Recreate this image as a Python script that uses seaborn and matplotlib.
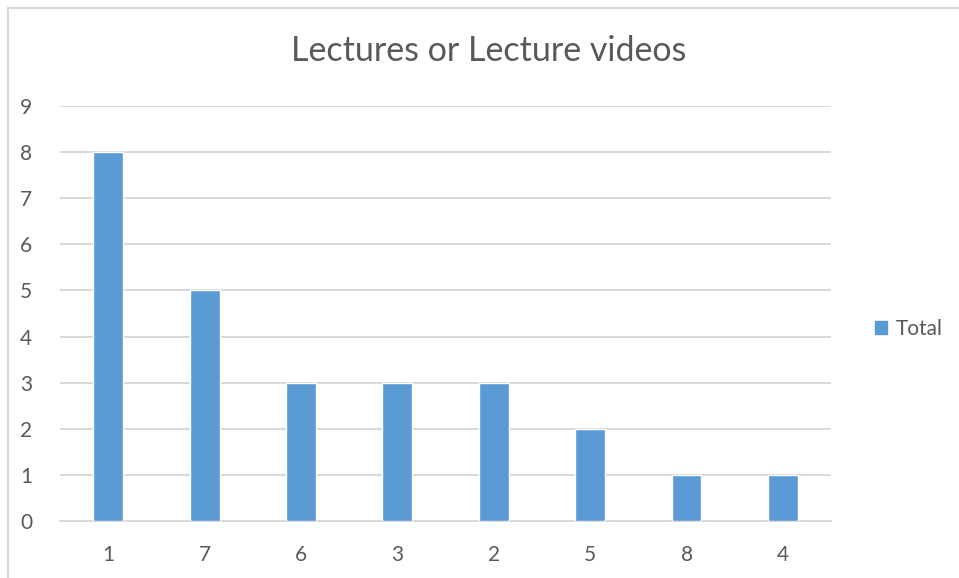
import matplotlib
matplotlib.use("Agg")
import matplotlib.pyplot as plt
from matplotlib.patches import Rectangle
import seaborn as sns
import pandas as pd

categories = ["1", "7", "6", "3", "2", "5", "8", "4"]
totals = [8, 5, 3, 3, 3, 2, 1, 1]
y_ticks = list(range(0, 10))
title = "Lectures or Lecture videos"
series_name = "Total"

sns.set_theme(style="white")
plt.rcParams["font.family"] = ["Lato", "DejaVu Sans"]

text_color = "#595959"
bar_color = "#5B9BD5"
grid_color = "#D9D9D9"

df = pd.DataFrame({"category": categories, "total": totals})

fig = plt.figure(figsize=(9.59, 5.78), dpi=100)
ax = fig.add_axes([0.0626, 0.0986, 0.804, 0.718])

sns.barplot(data=df, x="category", y="total", order=categories, color=bar_color,
            width=0.31, saturation=1, ax=ax, label=series_name, zorder=3)

ax.set_ylim(0, 9)
ax.set_xlim(-0.5, len(categories) - 0.5)
ax.set_yticks(y_ticks)
ax.yaxis.grid(True, color=grid_color, linewidth=1.4, zorder=0)
ax.set_axisbelow(True)
for s in ["top", "right", "left"]:
    ax.spines[s].set_visible(False)
ax.spines["bottom"].set_color(grid_color)
ax.spines["bottom"].set_linewidth(1.4)
ax.tick_params(axis="y", length=0, pad=20, labelsize=15, labelcolor=text_color)
ax.tick_params(axis="x", length=0, pad=17, labelsize=15, labelcolor=text_color)
ax.set_xlabel("")
ax.set_ylabel("")

fig.text(0.51, 0.911, title, ha="center", va="center", fontsize=24.5, color=text_color)

leg = fig.legend(handles=[Rectangle((0, 0), 1, 1, color=bar_color)], labels=[series_name],
                 loc="center left", bbox_to_anchor=(0.912, 0.431), frameon=False,
                 fontsize=15, handlelength=0.6, handleheight=0.6, handletextpad=0.4,
                 borderpad=0, borderaxespad=0)
for t in leg.get_texts():
    t.set_color(text_color)
if ax.get_legend() is not None:
    ax.get_legend().remove()

# chart frame: only the top and left edges fall inside the image
fig.add_artist(plt.Line2D([8 / 959, 1], [1 - 8 / 578, 1 - 8 / 578], color="#D9D9D9",
                          linewidth=1.5, transform=fig.transFigure))
fig.add_artist(plt.Line2D([8 / 959, 8 / 959], [0, 1 - 8 / 578], color="#D9D9D9",
                          linewidth=1.5, transform=fig.transFigure))

fig.savefig("out.png", dpi=100, facecolor="white")
